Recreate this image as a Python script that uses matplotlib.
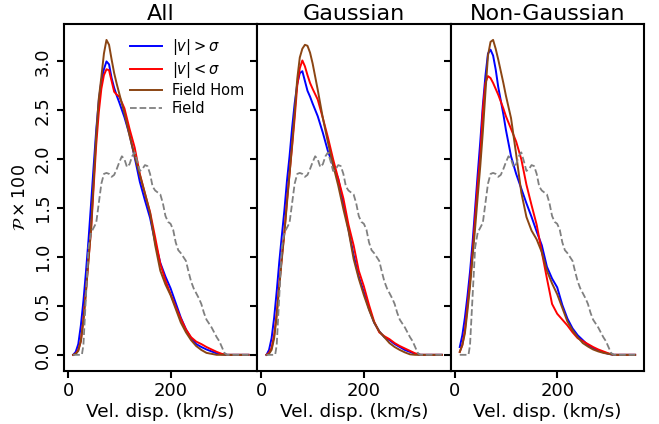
import numpy as np
import matplotlib
matplotlib.use("Agg")
import matplotlib.pyplot as plt

# velocity dispersion grid (km/s) for the KDE curves
v_grid = [10, 15, 20, 25, 30, 35, 40, 45, 50, 55, 60, 65, 70, 75, 80, 85, 90, 95, 100,
          110, 120, 130, 140, 150, 160, 170, 180, 190, 200, 210, 220, 230, 240, 250,
          260, 270, 280, 290, 300, 310, 330, 352]

# --- All ---
all_hi = [0.0, 0.03, 0.11, 0.30, 0.55, 0.85, 1.18, 1.55, 1.93, 2.30, 2.60, 2.80, 2.92, 3.00, 2.97,
          2.83, 2.73, 2.65, 2.58, 2.43, 2.25, 2.02, 1.77, 1.58, 1.40, 1.15, 0.94, 0.80, 0.68,
          0.53, 0.38, 0.26, 0.17, 0.11, 0.08, 0.055, 0.035, 0.015, 0.005, 0.0, 0.0, 0.0]
all_lo = [0.0, 0.01, 0.05, 0.14, 0.36, 0.65, 0.98, 1.28, 1.72, 2.15, 2.48, 2.72, 2.86, 2.92, 2.91,
          2.80, 2.69, 2.66, 2.64, 2.52, 2.31, 2.12, 1.85, 1.65, 1.46, 1.20, 0.93, 0.76, 0.62,
          0.49, 0.37, 0.26, 0.18, 0.135, 0.11, 0.08, 0.055, 0.03, 0.01, 0.0, 0.0, 0.0]
all_hom = [0.0, 0.01, 0.04, 0.14, 0.35, 0.65, 0.97, 1.30, 1.78, 2.25, 2.62, 2.84, 3.08, 3.22, 3.17,
           3.02, 2.88, 2.77, 2.67, 2.47, 2.24, 2.03, 1.84, 1.65, 1.45, 1.12, 0.86, 0.72, 0.61,
           0.47, 0.33, 0.23, 0.15, 0.09, 0.05, 0.02, 0.01, 0.0, 0.0, 0.0, 0.0, 0.0]

# --- Gaussian ---
gau_hi = [0.0, 0.05, 0.17, 0.38, 0.65, 0.95, 1.22, 1.48, 1.78, 2.03, 2.32, 2.57, 2.77, 2.88, 2.90,
          2.80, 2.70, 2.64, 2.57, 2.44, 2.27, 2.08, 1.94, 1.80, 1.55, 1.28, 1.02, 0.80, 0.64,
          0.47, 0.33, 0.24, 0.18, 0.15, 0.11, 0.08, 0.05, 0.03, 0.01, 0.0, 0.0, 0.0]
gau_lo = [0.0, 0.02, 0.07, 0.20, 0.42, 0.72, 1.00, 1.25, 1.58, 1.85, 2.13, 2.42, 2.75, 2.93, 3.01,
          2.95, 2.86, 2.78, 2.72, 2.61, 2.42, 2.22, 2.00, 1.80, 1.60, 1.33, 1.12, 0.86, 0.70,
          0.51, 0.34, 0.23, 0.19, 0.16, 0.12, 0.09, 0.065, 0.04, 0.015, 0.0, 0.0, 0.0]
gau_hom = [0.0, 0.01, 0.05, 0.17, 0.40, 0.70, 0.98, 1.25, 1.55, 1.85, 2.15, 2.48, 2.82, 3.04, 3.13,
           3.17, 3.16, 3.09, 2.98, 2.71, 2.42, 2.17, 1.94, 1.73, 1.49, 1.27, 0.98, 0.78, 0.61,
           0.46, 0.33, 0.24, 0.18, 0.12, 0.08, 0.05, 0.025, 0.005, 0.0, 0.0, 0.0, 0.0]

# --- Non-Gaussian ---
ng_hi = [0.08, 0.20, 0.38, 0.60, 0.85, 1.15, 1.50, 1.85, 2.18, 2.55, 2.85, 3.08, 3.12, 3.06, 2.92,
         2.74, 2.60, 2.46, 2.30, 2.03, 1.85, 1.70, 1.55, 1.41, 1.26, 1.12, 0.90, 0.78, 0.69,
         0.51, 0.37, 0.27, 0.20, 0.15, 0.10, 0.07, 0.045, 0.025, 0.01, 0.0, 0.0, 0.0]
ng_lo = [0.03, 0.10, 0.25, 0.50, 0.75, 1.05, 1.40, 1.75, 2.03, 2.50, 2.78, 2.85, 2.83, 2.78, 2.72,
         2.66, 2.59, 2.52, 2.44, 2.31, 2.18, 2.00, 1.74, 1.53, 1.33, 1.05, 0.78, 0.52, 0.42,
         0.36, 0.30, 0.23, 0.17, 0.14, 0.11, 0.08, 0.055, 0.035, 0.015, 0.0, 0.0, 0.0]
ng_hom = [0.03, 0.10, 0.22, 0.45, 0.70, 1.00, 1.30, 1.62, 1.93, 2.28, 2.68, 3.06, 3.20, 3.22, 3.13,
          3.02, 2.90, 2.78, 2.65, 2.42, 2.05, 1.66, 1.41, 1.27, 1.18, 1.05, 0.86, 0.73, 0.62,
          0.48, 0.34, 0.25, 0.18, 0.12, 0.085, 0.055, 0.035, 0.02, 0.01, 0.0, 0.0, 0.0]

# field distribution (same in every panel)
field_v = [10, 20, 27, 30, 35, 40, 45, 50, 55, 60, 65, 70, 75, 80, 85, 90, 95, 100, 105, 110,
           115, 120, 125, 130, 135, 140, 145, 150, 155, 160, 165, 170, 175, 180, 185, 190,
           195, 200, 205, 210, 215, 220, 225, 230, 235, 240, 245, 250, 255, 260, 265, 270,
           275, 280, 285, 290, 295, 300, 305, 310, 330, 352]
field_p = [0.0, 0.0, 0.0, 0.1, 0.6, 1.1, 1.25, 1.3, 1.35, 1.55, 1.75, 1.85, 1.86, 1.85, 1.82,
           1.84, 1.90, 1.97, 2.03, 2.00, 1.92, 1.95, 2.03, 2.07, 1.98, 1.88, 1.90, 1.94, 1.93,
           1.85, 1.72, 1.68, 1.66, 1.64, 1.55, 1.42, 1.36, 1.34, 1.28, 1.15, 1.07, 1.04, 1.00,
           0.96, 0.85, 0.75, 0.68, 0.63, 0.58, 0.52, 0.43, 0.36, 0.32, 0.28, 0.23, 0.18, 0.14,
           0.08, 0.02, 0.0, 0.0, 0.0]

titles = ['All', 'Gaussian', 'Non-Gaussian']
panels = [(all_hi, all_lo, all_hom), (gau_hi, gau_lo, gau_hom), (ng_hi, ng_lo, ng_hom)]

plt.rcParams['axes.linewidth'] = 1.5

fig, axes = plt.subplots(1, 3, figsize=(6.59, 4.24), dpi=100, sharey=True)
fig.subplots_adjust(left=0.097, right=0.977, bottom=0.126, top=0.943, wspace=0)

for ax, title, (hi, lo, hom) in zip(axes, titles, panels):
    ax.plot(v_grid, hi, color='blue', lw=1.4, label=r'$|v|>\sigma$')
    ax.plot(v_grid, lo, color='red', lw=1.4, label=r'$|v|<\sigma$')
    ax.plot(v_grid, hom, color='#8b4513', lw=1.4, label='Field Hom')
    ax.plot(field_v, field_p, color='gray', lw=1.3, ls='--', label='Field')
    ax.set_title(title, fontsize=16, pad=3)
    ax.set_xlabel('Vel. disp. (km/s)', fontsize=13.3, labelpad=2)
    ax.set_xticks([0, 200])
    ax.set_xlim(-8, 369)
    ax.tick_params(axis='both', labelsize=13, width=1.5, length=5)

axes[0].set_ylabel(r'$\mathcal{P}\times100$', fontsize=12.5, labelpad=4)
for lab in axes[0].get_yticklabels():
    lab.set_rotation(90)
    lab.set_va('center')
axes[0].legend(loc='upper right', frameon=False, fontsize=10.5, handlelength=2.2,
               handletextpad=0.7, labelspacing=0.2)

plt.savefig('out.png', dpi=100)
